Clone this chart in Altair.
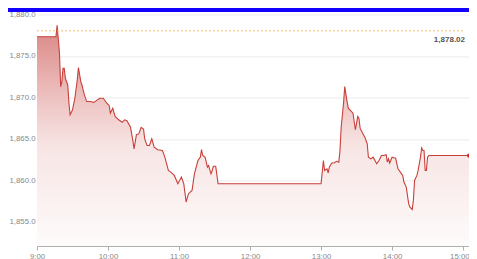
import altair as alt
import pandas as pd

times = ["09:00", "09:16", "09:17", "09:19", "09:20", "09:21", "09:22", "09:23", "09:24", "09:26",
         "09:27", "09:28", "09:30", "09:32", "09:34", "09:35", "09:37", "09:38", "09:40", "09:42",
         "09:45", "09:48", "09:51", "09:53", "09:56", "09:59", "10:01", "10:02", "10:04", "10:06",
         "10:09", "10:12", "10:14", "10:16", "10:19", "10:21", "10:22", "10:24", "10:26", "10:28",
         "10:30", "10:31", "10:33", "10:35", "10:37", "10:39", "10:42", "10:46", "10:48", "10:51",
         "10:53", "10:56", "10:59", "11:02", "11:04", "11:06", "11:08", "11:11", "11:13", "11:16",
         "11:18", "11:19", "11:20", "11:22", "11:24", "11:25", "11:27", "11:28", "11:29", "11:31",
         "11:33", "13:00", "13:02", "13:03", "13:05", "13:06", "13:07", "13:09", "13:11", "13:13",
         "13:15", "13:16", "13:17", "13:19", "13:20", "13:22", "13:23", "13:25", "13:27", "13:29",
         "13:31", "13:32", "13:33", "13:35", "13:37", "13:39", "13:40", "13:42", "13:44", "13:47",
         "13:49", "13:51", "13:53", "13:55", "13:56", "13:57", "13:58", "14:00", "14:02", "14:03",
         "14:05", "14:07", "14:09", "14:10", "14:12", "14:14", "14:15", "14:17", "14:18", "14:19",
         "14:21", "14:22", "14:24", "14:25", "14:26", "14:27", "14:28", "14:29", "14:30", "14:31",
         "15:05"]
prices = [1877.3, 1877.3, 1878.7, 1875.3, 1871.3, 1871.9, 1873.5, 1873.5, 1872.3, 1871.5,
          1869.3, 1867.9, 1868.5, 1869.9, 1872.1, 1873.6, 1871.9, 1871.5, 1870.3, 1869.5,
          1869.5, 1869.4, 1869.7, 1869.9, 1869.9, 1869.3, 1869.0, 1868.1, 1868.7, 1867.7,
          1867.3, 1867.0, 1867.3, 1867.2, 1866.4, 1864.8, 1863.8, 1865.5, 1865.6, 1866.4,
          1866.2, 1865.0, 1864.2, 1864.2, 1865.0, 1864.0, 1863.7, 1863.6, 1862.8, 1861.2,
          1861.0, 1860.6, 1859.6, 1860.4, 1859.6, 1857.4, 1858.4, 1858.8, 1860.8, 1862.4,
          1862.8, 1863.7, 1863.0, 1862.8, 1861.6, 1861.8, 1860.8, 1861.2, 1861.7, 1861.7,
          1859.6, 1859.6, 1862.4, 1861.2, 1861.4, 1860.9, 1861.6, 1862.1, 1862.1, 1862.3,
          1862.2, 1863.6, 1866.4, 1869.3, 1871.3, 1869.5, 1868.7, 1868.4, 1868.1, 1866.1,
          1867.7, 1867.5, 1866.3, 1865.7, 1865.2, 1864.4, 1862.8, 1862.6, 1862.8, 1862.0,
          1862.4, 1863.0, 1863.0, 1863.1, 1862.2, 1862.6, 1862.1, 1862.8, 1862.7, 1862.7,
          1861.4, 1861.0, 1860.6, 1859.8, 1859.2, 1857.2, 1856.8, 1856.5, 1857.6, 1860.0,
          1860.6, 1861.2, 1862.8, 1863.9, 1863.6, 1863.6, 1861.2, 1861.2, 1862.8, 1863.0,
          1863.0]
ref_price = 1878.02
y_ticks = [1855, 1860, 1865, 1870, 1875, 1880]
x_ticks = ["9:00", "10:00", "11:00", "12:00", "13:00", "14:00", "15:00"]


def to_min(t):
    h, m = t.split(":")
    return (int(h) - 9) * 60 + int(m)


df = pd.DataFrame({"t": times, "m": [to_min(t) for t in times], "p": prices})
last = df.tail(1)
ref_df = pd.DataFrame({"p": [ref_price]})
tick_vals = [to_min(t) for t in x_ticks]
end_min = to_min(times[-1])

PAD_L = 29
W = 432
H = 231.6
FONT = "Liberation Sans"

x = alt.X("m:Q",
          scale=alt.Scale(domain=[0, end_min], nice=False, zero=False),
          axis=alt.Axis(values=tick_vals,
                        labelExpr="(floor(datum.value/60)+9) + ':00'",
                        labelAlign=alt.condition("datum.value >= 360", alt.value("right"), alt.value("center")),
                        labelOffset=alt.condition("datum.value >= 360", alt.value(6), alt.value(0)),
                        grid=False, domainColor="#b0b0b0", tickColor="#b0b0b0",
                        tickSize=4, labelColor="#888888", labelFontSize=7.8,
                        labelFont=FONT, labelPadding=2, title=None))
y = alt.Y("p:Q", stack=False,
          scale=alt.Scale(domain=[1852.1, 1880], nice=False, zero=False),
          axis=alt.Axis(values=y_ticks, format=",.1f", grid=True, gridColor="#ebebeb",
                        domain=False, ticks=False, labelColor="#888888",
                        labelFontSize=7.8, labelFont=FONT, labelPadding=2, title=None))

grad = alt.Gradient(gradient="linear",
                    stops=[alt.GradientStop(color="#da8683", offset=0),
                           alt.GradientStop(color="#edc2c1", offset=0.33),
                           alt.GradientStop(color="#f7e5e4", offset=0.55),
                           alt.GradientStop(color="#fefbfb", offset=1)],
                    x1=1, x2=1, y1=0, y2=1)

area = alt.Chart(df).mark_area(color=grad, opacity=1).encode(x=x, y=y, y2=alt.value(H))
line = alt.Chart(df).mark_line(color="#c8403a", strokeWidth=1.1).encode(x=x, y=y)
dot = alt.Chart(last).mark_circle(color="#c23531", size=18, opacity=1).encode(x=x, y=y)

ref = alt.Chart(ref_df).mark_rule(color="#f6c16a", strokeDash=[2, 2], strokeWidth=1).encode(
    y=y, x=alt.value(0), x2=alt.value(W - 6))
ref_label = alt.Chart(ref_df).mark_text(align="right", baseline="middle", dy=9,
                                        fontSize=8, font=FONT, fontWeight="bold",
                                        color="#555555").encode(
    y=y, x=alt.value(W - 4), text=alt.Text("p:Q", format=",.2f"))

bar = alt.Chart(pd.DataFrame({"a": [0]})).mark_rect(color="#1400ff").encode(
    x=alt.value(-PAD_L), x2=alt.value(W), y=alt.value(-6.4), y2=alt.value(-2.4))

chart = alt.layer(area, line, ref, ref_label, dot, bar).properties(
    width=W, height=H,
    padding={"left": PAD_L, "top": 6.4, "right": 0, "bottom": 13},
    autosize="none",
).configure_view(strokeWidth=0)

chart.save("out.html", embed_options={"renderer": "svg", "actions": False})
